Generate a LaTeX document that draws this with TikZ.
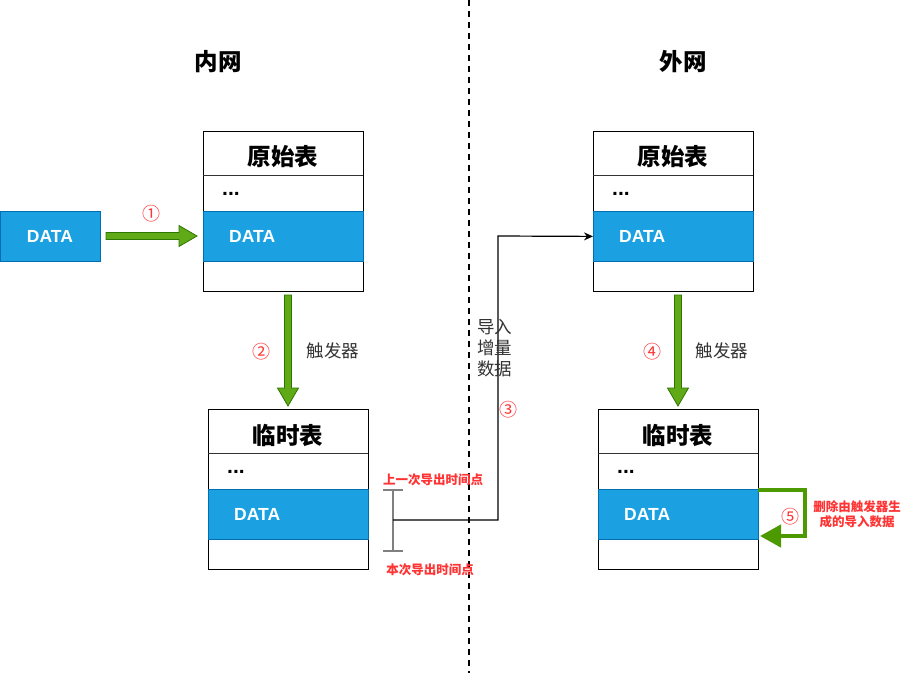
\documentclass[tikz,border=0pt]{standalone}
\usepackage{fontspec}
\setmainfont{Liberation Sans}
\newfontfamily\cjk{Noto Sans CJK SC}
\usetikzlibrary{arrows.meta,calc}
\definecolor{dblue}{HTML}{1BA1E2}
\definecolor{dbluel}{HTML}{006EAF}
\definecolor{gfill}{HTML}{60A917}
\definecolor{gline}{HTML}{2D7600}
\definecolor{gloop}{HTML}{4D9900}
\definecolor{rtxt}{HTML}{FF3333}
\definecolor{txtg}{HTML}{333333}
\tikzset{
  tabframe/.style={draw=black, line width=1pt, anchor=north west, minimum width=160pt, minimum height=160pt, inner sep=0pt},
  tabhead/.style={anchor=north west, minimum width=160pt, minimum height=44pt, inner sep=0pt},
  headtxt/.style={inner sep=0pt, font=\cjk\bfseries\fontsize{23.5}{26}\selectfont},
  tabrow/.style={anchor=north west, minimum width=160pt, inner sep=0pt},
  datarow/.style={anchor=north west, minimum width=160pt, minimum height=50pt, inner sep=0pt, fill=dblue, draw=dbluel, line width=0.8pt},
  databox/.style={minimum width=100pt, minimum height=50pt, inner sep=0pt, fill=dblue, draw=dbluel, line width=0.8pt, text=white, font=\bfseries\fontsize{17.5}{20}\selectfont},
  datatxt/.style={anchor=west, inner sep=0pt, text=white, font=\bfseries\fontsize{17.5}{20}\selectfont},
  dotstxt/.style={anchor=west, inner sep=0pt, font=\bfseries\fontsize{21}{24}\selectfont},
  fatarr/.style={fill=gfill, draw=gline, line width=0.8pt},
  circ/.style={inner sep=0pt, text=rtxt, font=\cjk\fontsize{18}{20}\selectfont},
  trig/.style={inner sep=0pt, text=txtg, font=\cjk\fontsize{17.5}{20}\selectfont},
  redlbl/.style={inner sep=0pt, text=rtxt, font=\cjk\bfseries\fontsize{12.5}{14.5}\selectfont, align=center},
  title/.style={inner sep=0pt, font=\cjk\bfseries\fontsize{23.5}{26}\selectfont},
}
\newcommand\dbtab[5]{%
  \node[tabframe] (#1) at (#2,#3) {};
  \node[tabhead] (#1h) at (#2,#3) {};
  \node[headtxt] (#1ht) at ([yshift=-#5pt]#1h.center) {#4};
  \draw[line width=1.6pt, draw=black!80] (#1h.south west) -- (#1h.south east);
  \node[tabrow, minimum height=36pt] (#1r) at (#2,#3+44) {};
  \node[dotstxt] (#1rt) at ([xshift=19pt,yshift=-1pt]#1r.west) {...};
  \node[datarow] (#1d) at (#2,#3+80) {};
  \node[datatxt] (#1dt) at ([xshift=26pt]#1d.west) {DATA};
}
\newcommand\fatarrow[2]{%
  \draw[fatarr] let \p1=(#1), \p2=(#2), \n1={veclen(\x2-\x1,\y2-\y1)}, \n2={atan2(\y2-\y1,\x2-\x1)} in
  [shift={(\x1,\y1)}, rotate=\n2] (0pt,3.5pt) -- (\n1-18pt,3.5pt) -- (\n1-18pt,10.5pt) -- (\n1,0pt) -- (\n1-18pt,-10.5pt) -- (\n1-18pt,-3.5pt) -- (0pt,-3.5pt) -- cycle;}
\begin{document}
\begin{tikzpicture}[x=1pt,y=-1pt]
\useasboundingbox[fill=white] (0,0) rectangle (907,673);
% divider
\draw[line width=1.5pt, dash pattern=on 6pt off 5pt] (469,0) coordinate (dtop) -- (469,673) coordinate (dbot);
% titles
\node[title] (tin) at (218,62) {内网};
\node[title] (tout) at (683,62) {外网};
% tables
\dbtab{lo}{203}{131}{原始表}{3}
\dbtab{lt}{208}{409}{临时表}{4}
\dbtab{ro}{593}{131}{原始表}{3}
\dbtab{rt}{598}{409}{临时表}{4}
% source DATA box
\node[databox] (src) at (50,236) {DATA};
% arrow 1
\coordinate (a1s) at (106,236);
\coordinate (a1e) at (197,236);
\fatarrow{a1s}{a1e}
\node[circ] (n1) at (151,214) {①};
% arrow 2
\coordinate (a2s) at (288,295);
\coordinate (a2e) at (288,406);
\fatarrow{a2s}{a2e}
\node[circ] (n2) at (261,352) {②};
\node[trig] (t2) at (333,351) {触发器};
% arrow 4
\coordinate (a4s) at (678,295);
\coordinate (a4e) at (678,406);
\fatarrow{a4s}{a4e}
\node[circ] (n4) at (652,352) {④};
\node[trig] (t4) at (722,351) {触发器};
% bracket
\coordinate (bt) at (393,490);
\coordinate (bb) at (393,551);
\coordinate (bm) at (393,520);
\draw[draw=gray, line width=2pt] (bt) -- (bb);
\draw[draw=gray, line width=2pt] ([xshift=-10pt]bt) -- ([xshift=10pt]bt);
\draw[draw=gray, line width=2pt] ([xshift=-10pt]bb) -- ([xshift=10pt]bb);
\node[redlbl] (lprev) at (433,480) {上一次导出时间点};
\node[redlbl] (lcur) at (430,570) {本次导出时间点};
% connector 3
\coordinate (c3) at (498,236);
\draw[line width=1.2pt, -{Stealth[length=9pt,width=8pt]}] (bm) -| (c3) -- (rod.west);
\node[trig, align=left, anchor=north west, font=\cjk\fontsize{17.5}{21}\selectfont] (t3) at (477,319) {导入\\增量\\数据};
\node[circ] (n3) at (508,410) {③};
% loop 5
\coordinate (c5s) at (758,490);
\coordinate (c5a) at (805,490);
\coordinate (c5b) at (805,536);
\coordinate (c5e) at (760,536);
\draw[draw=gloop, line width=4.5pt, -{Triangle[length=21pt,width=22pt]}] (c5s) -- (c5a) -- (c5b) -- (c5e);
\node[circ] (n5) at (790,517) {⑤};
\node[redlbl] (l5) at (857,514) {删除由触发器生\\成的导入数据};
\end{tikzpicture}
\end{document}
